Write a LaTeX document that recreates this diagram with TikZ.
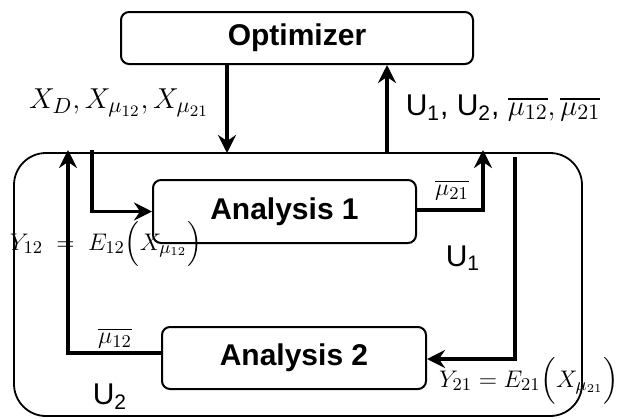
\documentclass[tikz,border=0pt]{standalone}
\usepackage{amsmath}
\usepackage{amssymb}
\usepackage{fontspec}
\setmainfont{Liberation Sans}
\usepackage{tikz}
\usetikzlibrary{arrows.meta}

\tikzset{
  block/.style={draw, line width=1pt, rounded corners=4pt, inner sep=0pt,
    font=\fontsize{15}{18}\selectfont\bfseries},
  flow/.style={line width=1.6pt, -{Stealth[length=9pt,width=9pt,inset=3pt]}},
  lbl/.style={inner sep=0pt, font=\fontsize{15}{18}\selectfont},
}

\begin{document}
\begin{tikzpicture}[x=0.5pt,y=-0.5pt]
  \useasboundingbox (0,0) rectangle (626,418);
  % blocks
  \node [block, minimum width=176pt, minimum height=26pt] (opt) at (297,38) {Optimizer};
  \node [draw, line width=0.9pt, rounded corners=16pt, minimum width=284pt,
         minimum height=131.5pt, inner sep=0pt] (sys) at (298,284.5) {};
  \node [block, minimum width=131.5pt, minimum height=31.5pt] (an1) at (284.5,211.5) {Analysis 1};
  \node [block, minimum width=132pt, minimum height=31pt] (an2) at (294,358) {Analysis 2};
  % free ends
  \coordinate (xin) at (227,153);
  \coordinate (uout) at (387,153);
  \coordinate (xd) at (92,150);
  \coordinate (fb1) at (68,150);
  \coordinate (out1) at (483,150);
  \coordinate (fb2) at (515,157);
  % connectors
  \draw [flow] (opt.south -| xin) -- (xin);
  \draw [flow] (uout) -- (opt.south -| uout);
  \draw [flow] (xd) |- (an1.west);
  \draw [flow] ([yshift=2.5pt]an2.west) -| (fb1);
  \draw [flow] ([yshift=0.8pt]an1.east) -| (out1);
  \draw [flow] (fb2) |- ([yshift=-0.5pt]an2.east);
  % labels
  \node [lbl, font=\fontsize{15.5}{18}\selectfont] (xlab) at (119,103) {$X_D, X_{\mu_{12}}, X_{\mu_{21}}$};
  \node [lbl] (ulab) at (503,108) {U\textsubscript{1}, U\textsubscript{2}, $\overline{\mu_{12}}, \overline{\mu_{21}}$};
  \node [lbl, font=\fontsize{12.5}{15}\selectfont] (y12) at (106,244) {$Y_{12} \;=\; E_{12}\Bigl(X_{\mu_{12}}\Bigr)$};
  \node [lbl, font=\fontsize{13}{15}\selectfont] (m21) at (452,190) {$\overline{\mu_{21}}$};
  \node [lbl] (u1) at (463,258) {U\textsubscript{1}};
  \node [lbl, font=\fontsize{13}{15}\selectfont] (m12) at (115,338) {$\overline{\mu_{12}}$};
  \node [lbl] (u2) at (110,397) {U\textsubscript{2}};
  \node [lbl, font=\fontsize{13}{15}\selectfont] (y21) at (529,381) {$Y_{21} = E_{21}\Bigl(X_{\mu_{21}}\Bigr)$};
\end{tikzpicture}
\end{document}
